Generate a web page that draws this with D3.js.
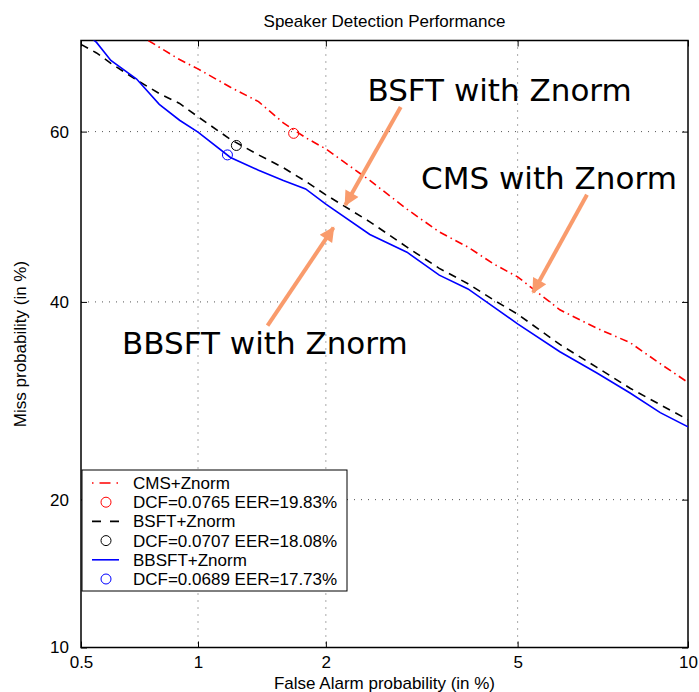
<!DOCTYPE html>
<html>
<head>
<meta charset="utf-8">
<script src="https://cdn.jsdelivr.net/npm/d3@7"></script>
<style>
  body { margin: 0; background: #fff; }
  svg text { font-family: "Liberation Sans", Arial, sans-serif; }
</style>
</head>
<body>
<div id="chartDiv"></div>
<script>
// ticks (in %)
const xTicks = [0.5, 1, 2, 5, 10];
const yTicks = [10, 20, 40, 60];
const xDomain = [0.5, 10];
const yDomain = [10, 70];

// DET curves: false alarm % / miss %
const cmsFa   = [0.75, 0.8, 0.9, 1.0, 1.2, 1.4, 1.6, 1.8, 2.0, 2.5, 3, 3.5, 4, 4.5, 5, 6, 7, 8, 9, 10];
const cmsMiss = [70.0, 69.3, 68.0, 67.0, 65.0, 63.4, 61.0, 59.3, 58.0, 54.3, 50.9, 48.2, 46.4, 44.4, 42.9, 39.1, 37.0, 35.4, 33.1, 31.1];

const bsftFa   = [0.5, 0.55, 0.6, 0.7, 0.8, 0.9, 1.0, 1.2, 1.4, 1.6, 1.8, 2.0, 2.5, 3, 3.5, 4, 4.5, 5, 6, 7, 8, 9, 10];
const bsftMiss = [69.6, 68.7, 67.6, 65.8, 64.3, 63.2, 61.7, 59.1, 57.3, 55.8, 54.2, 52.6, 49.4, 46.4, 43.9, 42.1, 40.2, 38.6, 35.2, 32.7, 30.5, 28.8, 27.3];

const bbsftFa   = [0.535, 0.55, 0.6, 0.7, 0.8, 0.9, 1.0, 1.2, 1.4, 1.6, 1.8, 2.0, 2.5, 3, 3.5, 4, 4.5, 5, 6, 7, 8, 9, 10];
const bbsftMiss = [70.2, 69.8, 67.9, 65.9, 63.1, 61.3, 59.95, 57.0, 55.5, 54.3, 53.3, 51.5, 47.9, 45.8, 43.1, 41.5, 39.4, 37.5, 34.4, 32.1, 30.0, 28.0, 26.6];

// min DCF operating points
const dcfFa   = [1.69, 1.24, 1.18];
const dcfMiss = [59.8, 58.4, 57.3];

const seriesNames = ["CMS+Znorm", "BSFT+Znorm", "BBSFT+Znorm"];
const dcfLabels = ["DCF=0.0765 EER=19.83%", "DCF=0.0707 EER=18.08%", "DCF=0.0689 EER=17.73%"];

// annotations (text anchor and arrow start/tip, in %)
const noteText = ["BSFT with Znorm", "CMS with Znorm", "BBSFT with Znorm"];
const noteFa   = [2.47, 3.21, 0.642];
const noteMiss = [63.5, 53.3, 34.1];
const arrowFromFa   = [2.91, 6.72, 1.47];
const arrowFromMiss = [62.8, 52.6, 37.3];
const arrowToFa     = [2.21, 5.35, 2.08];
const arrowToMiss   = [51.4, 41.1, 48.7];

// inverse normal cdf (Acklam)
function probit(p) {
  const a = [-3.969683028665376e+01, 2.209460984245205e+02, -2.759285104469687e+02, 1.383577518672690e+02, -3.066479806614716e+01, 2.506628277459239e+00];
  const b = [-5.447609879822406e+01, 1.615858368580409e+02, -1.556989798598866e+02, 6.680131188771972e+01, -1.328068155288572e+01];
  const c = [-7.784894002430293e-03, -3.223964580411365e-01, -2.400758277161838e+00, -2.549732539343734e+00, 4.374664141464968e+00, 2.938163982698783e+00];
  const d = [7.784695709041462e-03, 3.224671290700398e-01, 2.445134137142996e+00, 3.754408661907416e+00];
  const plow = 0.02425, phigh = 1 - plow;
  let q, r;
  if (p < plow) {
    q = Math.sqrt(-2 * Math.log(p));
    return (((((c[0]*q+c[1])*q+c[2])*q+c[3])*q+c[4])*q+c[5]) / ((((d[0]*q+d[1])*q+d[2])*q+d[3])*q+1);
  }
  if (p <= phigh) {
    q = p - 0.5; r = q * q;
    return (((((a[0]*r+a[1])*r+a[2])*r+a[3])*r+a[4])*r+a[5])*q / (((((b[0]*r+b[1])*r+b[2])*r+b[3])*r+b[4])*r+1);
  }
  q = Math.sqrt(-2 * Math.log(1 - p));
  return -(((((c[0]*q+c[1])*q+c[2])*q+c[3])*q+c[4])*q+c[5]) / ((((d[0]*q+d[1])*q+d[2])*q+d[3])*q+1);
}
const dev = v => probit(v / 100);

const W = 699, H = 692;
const margin = {left: 81, top: 40.5, right: 11, bottom: 44.5};
const width = W - margin.left - margin.right;
const height = H - margin.top - margin.bottom;

const xs = d3.scaleLinear().domain(xDomain.map(dev)).range([0, width]);
const ys = d3.scaleLinear().domain(yDomain.map(dev)).range([height, 0]);
const X = v => xs(dev(v));
const Y = v => ys(dev(v));

const svg = d3.select("#chartDiv").append("svg")
    .attr("width", W)
    .attr("height", H)
    .attr("viewBox", [0, 0, W, H]);

svg.append("defs").append("clipPath").attr("id", "plotClip")
  .append("rect").attr("width", width).attr("height", height);

const marker = svg.select("defs").append("marker")
    .attr("id", "arrowHead")
    .attr("viewBox", "0 0 10 10")
    .attr("refX", 9).attr("refY", 5)
    .attr("markerUnits", "userSpaceOnUse")
    .attr("markerWidth", 17).attr("markerHeight", 15)
    .attr("orient", "auto");
marker.append("path").attr("d", "M0,0L10,5L0,10Z").attr("fill", "#f99b6c");

const g = svg.append("g").attr("transform", `translate(${margin.left},${margin.top})`);

// grid
const grid = g.append("g")
    .attr("stroke", "#555")
    .attr("stroke-width", 1)
    .attr("stroke-dasharray", "1,6");
grid.selectAll(".gx").data(xTicks.slice(1, -1)).join("line")
    .attr("x1", d => X(d)).attr("x2", d => X(d))
    .attr("y1", 0).attr("y2", height);
grid.selectAll(".gy").data(yTicks.slice(1)).join("line")
    .attr("y1", d => Y(d)).attr("y2", d => Y(d))
    .attr("x1", 0).attr("x2", width);

// axes, ticks inside
const fmt = (d, i, arr) => d;
const xAxis = d3.axisBottom(xs).tickValues(xTicks.map(dev)).tickSize(-6).tickPadding(8)
    .tickFormat((d, i) => xTicks[i]);
const yAxis = d3.axisLeft(ys).tickValues(yTicks.map(dev)).tickSize(-6).tickPadding(12)
    .tickFormat((d, i) => yTicks[i]);

const gx = g.append("g").attr("transform", `translate(0,${height})`).call(xAxis);
const gy = g.append("g").call(yAxis);
g.append("g").call(d3.axisTop(xs).tickValues(xTicks.map(dev)).tickSize(-6).tickFormat(""));
g.append("g").attr("transform", `translate(${width},0)`)
  .call(d3.axisRight(ys).tickValues(yTicks.map(dev)).tickSize(-6).tickFormat(""));
g.selectAll(".domain").remove();
g.selectAll(".tick line").attr("stroke", "#000").attr("stroke-width", 1);
[gx, gy].forEach(a => a.selectAll(".tick text")
    .attr("font-size", 17).attr("fill", "#000")
    .style("font-family", '"Liberation Sans", Arial, sans-serif'));

g.append("rect")
    .attr("width", width).attr("height", height)
    .attr("fill", "none").attr("stroke", "#000").attr("stroke-width", 1.5);

// curves
const line = d3.line().x(d => X(d[0])).y(d => Y(d[1]));
const curves = [
  {fa: cmsFa, miss: cmsMiss, color: "#ff0000", dash: "8,4,1.5,4"},
  {fa: bsftFa, miss: bsftMiss, color: "#000000", dash: "8,6"},
  {fa: bbsftFa, miss: bbsftMiss, color: "#0000ff", dash: null}
];
const plot = g.append("g").attr("clip-path", "url(#plotClip)");
plot.selectAll(".curve").data(curves).join("path")
    .attr("class", "curve")
    .attr("fill", "none")
    .attr("stroke", d => d.color)
    .attr("stroke-width", 1.6)
    .attr("stroke-dasharray", d => d.dash)
    .attr("d", d => line(d.fa.map((f, i) => [f, d.miss[i]])));

plot.selectAll(".dcf").data(dcfFa).join("circle")
    .attr("class", "dcf")
    .attr("cx", d => X(d))
    .attr("cy", (d, i) => Y(dcfMiss[i]))
    .attr("r", 5)
    .attr("fill", "none")
    .attr("stroke", (d, i) => curves[i].color)
    .attr("stroke-width", 1);

// annotations
const notes = g.append("g");
notes.selectAll("line").data(noteText).join("line")
    .attr("x1", (d, i) => X(arrowFromFa[i])).attr("y1", (d, i) => Y(arrowFromMiss[i]))
    .attr("x2", (d, i) => X(arrowToFa[i])).attr("y2", (d, i) => Y(arrowToMiss[i]))
    .attr("stroke", "#f99b6c").attr("stroke-width", 4)
    .attr("marker-end", "url(#arrowHead)");
notes.selectAll("text").data(noteText).join("text")
    .attr("x", (d, i) => X(noteFa[i])).attr("y", (d, i) => Y(noteMiss[i]))
    .style("font-family", '"DejaVu Sans", sans-serif')
    .attr("font-size", 31)
    .attr("fill", "#000")
    .text(d => d);

// legend
const leg = g.append("g").attr("transform", "translate(1,429.5)");
const rowH = 19.2;
leg.append("rect")
    .attr("width", 265).attr("height", 121)
    .attr("fill", "#fff").attr("stroke", "#000").attr("stroke-width", 1);
curves.forEach((c, i) => {
  const y1 = 13 + rowH * 2 * i, y2 = y1 + rowH;
  leg.append("line")
      .attr("x1", 10).attr("x2", 37).attr("y1", y1).attr("y2", y1)
      .attr("stroke", c.color).attr("stroke-width", 1.6)
      .attr("stroke-dasharray", i === 0 ? "1.5,6,11,6,1.5" : i === 1 ? "9,9" : null);
  leg.append("circle")
      .attr("cx", 24).attr("cy", y2).attr("r", 5)
      .attr("fill", "none").attr("stroke", c.color).attr("stroke-width", 1);
  leg.append("text").attr("x", 51).attr("y", y1).attr("dy", "0.35em")
      .attr("font-size", 17).text(seriesNames[i]);
  leg.append("text").attr("x", 51).attr("y", y2).attr("dy", "0.35em")
      .attr("font-size", 17).text(dcfLabels[i]);
});

// titles
svg.append("text")
    .attr("x", margin.left + width / 2).attr("y", 27)
    .attr("text-anchor", "middle").attr("font-size", 17)
    .text("Speaker Detection Performance");
svg.append("text")
    .attr("x", margin.left + width / 2).attr("y", 689)
    .attr("text-anchor", "middle").attr("font-size", 17)
    .text("False Alarm probability (in %)");
svg.append("text")
    .attr("transform", `translate(26,${margin.top + height / 2}) rotate(-90)`)
    .attr("text-anchor", "middle").attr("font-size", 17)
    .text("Miss probability (in %)");
</script>
</body>
</html>
